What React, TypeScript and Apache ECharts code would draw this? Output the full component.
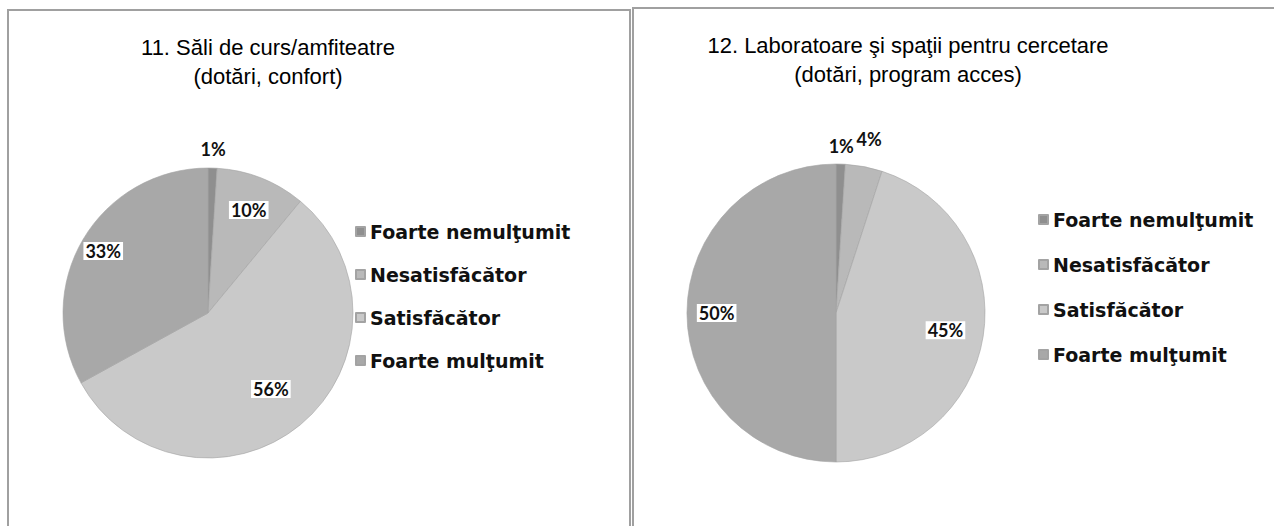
import React, { useEffect, useRef } from "react";
import * as echarts from "echarts";

const categories = ["Foarte nemulţumit", "Nesatisfăcător", "Satisfăcător", "Foarte mulţumit"];
const values11 = [1, 10, 56, 33];
const values12 = [1, 4, 45, 50];
const title11 = "11. Săli de curs/amfiteatre\n(dotări, confort)";
const title12 = "12. Laboratoare şi spaţii pentru cercetare\n(dotări, program acces)";

const colors = ["#8f8f8f", "#b9b9b9", "#c9c9c9", "#a8a8a8"];
const centers = [[208, 313], [836, 313]];
const radii = [145, 149];
// radial position of each label, as a fraction of the radius
const labelK = [
  [1.086, 0.733, 0.653, 0.806],
  [1.077, 1.14, 0.715, 0.77],
];

export default function App() {
  const ref = useRef<HTMLDivElement>(null);
  useEffect(() => {
    if (!ref.current) return;
    const chart = echarts.init(ref.current, null, { renderer: "svg" });
    const mkData = (vals: number[], s: number) =>
      vals.map((v, i) => ({
        name: categories[i],
        value: v,
        label: labelK[s][i] > 1
          ? { backgroundColor: "transparent", padding: 0 }
          : {},
      }));
    const mkSeries = (vals: number[], s: number) => ({
      type: "pie",
      center: centers[s],
      radius: radii[s],
      startAngle: 90,
      clockwise: true,
      silent: true,
      data: mkData(vals, s),
      itemStyle: { borderColor: "#a3a3a3", borderWidth: 0.6 },
      label: {
        show: true,
        position: "inside",
        formatter: "{c}%",
        fontFamily: "Lato",
        fontWeight: "bold",
        fontSize: 18,
        color: "#111",
        backgroundColor: "#ffffff",
        padding: [0, 2],
      },
      labelLine: { show: false },
      labelLayout: (p: any) => {
        const i = p.dataIndex;
        const k = labelK[s][i];
        const [cx, cy] = centers[s];
        const lx = p.labelRect.x + p.labelRect.width / 2;
        const ly = p.labelRect.y + p.labelRect.height / 2;
        const f = k / 0.5 - 1;
        return { dx: (lx - cx) * f, dy: (ly - cy) * f };
      },
    });
    const legendCommon = {
      orient: "vertical",
      icon: "rect",
      itemWidth: 9,
      itemHeight: 9,
      data: categories,
      selectedMode: false,
      textStyle: { fontFamily: "DejaVu Sans", fontWeight: "bold", fontSize: 19, color: "#111" },
    };
    const titleStyle = { fontFamily: "Liberation Sans", fontSize: 22, fontWeight: "normal", color: "#000", lineHeight: 29 };
    chart.setOption({
      animation: false,
      color: colors,
      graphic: [
        { type: "rect", shape: { x: 8, y: 10, width: 622, height: 540 }, style: { fill: "none", stroke: "#a0a0a0", lineWidth: 2 } },
        { type: "rect", shape: { x: 633, y: 8, width: 660, height: 540 }, style: { fill: "none", stroke: "#a0a0a0", lineWidth: 2 } },
      ],
      title: [
        { text: title11, left: 263, top: 28, textAlign: "center", textStyle: titleStyle },
        { text: title12, left: 903, top: 26, textAlign: "center", textStyle: titleStyle },
      ],
      legend: [
        { ...legendCommon, left: 350, top: 217, itemGap: 24 },
        { ...legendCommon, left: 1033, top: 205, itemGap: 26 },
      ],
      series: [mkSeries(values11, 0), mkSeries(values12, 1)],
    });
    return () => chart.dispose();
  }, []);
  return (
    <div
      ref={ref}
      style={{ position: "absolute", left: 0, top: 0, width: 1274, height: 526, background: "#fff" }}
    />
  );
}
